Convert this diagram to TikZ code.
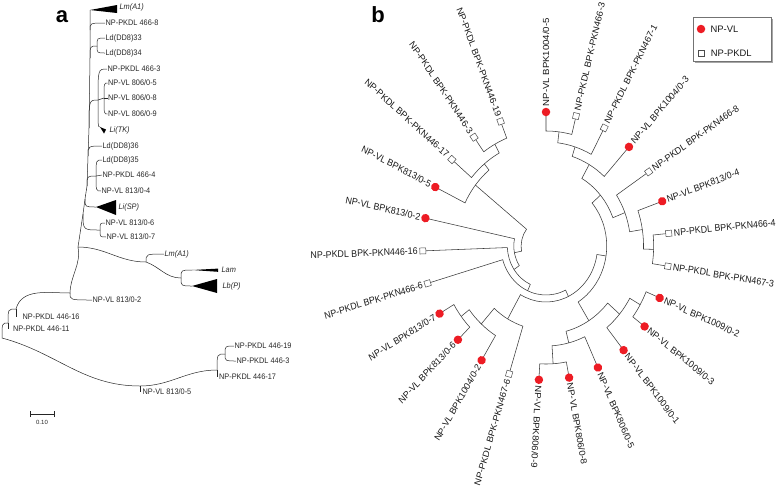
\documentclass[tikz,border=0pt]{standalone}
\usepackage{fontspec}
\setmainfont{Liberation Sans}
\usetikzlibrary{positioning}
\definecolor{vlred}{HTML}{ED1C24}
\definecolor{linegray}{HTML}{3A3A3A}

% circular clade: arc between two child angles at radius #3, radial stems to #4 and #5
\newcommand{\clade}[5]{\draw[branch] (#1:#4) -- (#1:#3) arc[start angle=#1, end angle=#2, radius=#3] -- (#2:#5);}
% leaf of the circular tree: index, marker style, text
\newcommand{\leafb}[3]{%
  \pgfmathsetmacro\ang{90-14.1*(#1-1)}%
  \pgfmathsetmacro\vis{atan2(sin(\ang),0.92*cos(\ang))}%
  \pgfmathtruncatemacro\isright{cos(\ang)>-0.2 ? 1 : 0}%
  \node[#2, rotate=\vis] (leaf#1) at (\ang:134) {};
  \ifnum\isright=1
    \node[blab, anchor=west, xscale=0.92, rotate=\ang] (tx#1) at (\ang:139.5) {#3};
  \else
    \node[blab, anchor=east, xscale=0.92, rotate=\ang+180] (tx#1) at (\ang:139.5) {#3};
  \fi}

\begin{document}
\begin{tikzpicture}[x=1pt, y=-1pt,
    branch/.style={draw=linegray, line width=0.55pt},
    abranch/.style={draw=black!85, line width=0.5pt},
    cbranch/.style={to path={.. controls (\tikztostart |- \tikztotarget) .. (\tikztotarget)}},
    alab/.style={font=\fontsize{8}{9}\selectfont, anchor=west, inner sep=0.5pt, xscale=0.92, text=black!85},
    aital/.style={alab, font=\fontsize{8}{9}\selectfont\itshape},
    blab/.style={font=\fontsize{9.6}{10}\selectfont, inner sep=0pt, text=black!90},
    vldot/.style={circle, fill=vlred, inner sep=0pt, minimum size=8.5pt},
    pksq/.style={rectangle, draw=black!70, fill=white, line width=0.5pt, inner sep=0pt, minimum size=6pt},
    collapsed/.style={fill=black},
    paneltag/.style={font=\fontsize{22}{24}\selectfont\bfseries, anchor=base}
  ]
  \useasboundingbox (0,0) rectangle (778,488);

  \node[paneltag] (taga) at (62,22) {a};
  \node[paneltag] (tagb) at (378,22) {b};

  % ---- panel a ----
  \node[aital] (laLmA) at (119,7.5) {Lm(A1)};
  \node[alab] (la4668) at (105,23) {NP-PKDL 466-8};
  \node[alab] (la33) at (105,38) {Ld(DD8)33};
  \node[alab] (la34) at (105,53) {Ld(DD8)34};
  \node[alab] (la4663) at (107,69) {NP-PKDL 466-3};
  \node[alab] (la8065) at (107.5,83) {NP-VL 806/0-5};
  \node[alab] (la8068) at (107.5,98) {NP-VL 806/0-8};
  \node[alab] (la8069) at (107.5,114) {NP-VL 806/0-9};
  \node[aital] (laTK) at (109,130) {Li(TK)};
  \node[alab] (la36) at (102,146) {Ld(DD8)36};
  \node[alab] (la35) at (102,160) {Ld(DD8)35};
  \node[alab] (la4664) at (102,175) {NP-PKDL 466-4};
  \node[alab] (la8134) at (101,191) {NP-VL 813/0-4};
  \node[aital] (laSP) at (118,207) {Li(SP)};
  \node[alab] (la8136) at (105,223) {NP-VL 813/0-6};
  \node[alab] (la8137) at (106,237) {NP-VL 813/0-7};
  \node[aital] (laLmB) at (164,254) {Lm(A1)};
  \node[aital] (laLam) at (221,270) {Lam};
  \node[aital] (laLb) at (222,286) {Lb(P)};
  \node[alab] (la8132) at (92,300) {NP-VL 813/0-2};
  \node[alab] (la44616) at (22,317) {NP-PKDL 446-16};
  \node[alab] (la44611) at (12.5,329) {NP-PKDL 446-11};
  \node[alab] (la8135) at (142,392) {NP-VL 813/0-5};
  \node[alab] (la44617) at (218.5,377) {NP-PKDL 446-17};
  \node[alab] (la44619) at (234,346) {NP-PKDL 446-19};
  \node[alab] (la4463) at (236,361) {NP-PKDL 446-3};

  \coordinate (r0) at (2,338);
  \coordinate (n1) at (8,323);
  \coordinate (n2) at (16,309);
  \coordinate (n3) at (70,293);
  \coordinate (n4) at (78,247);
  \coordinate (m1) at (83,214);
  \coordinate (s0) at (85,199);
  \coordinate (p5) at (87,186);
  \coordinate (p4) at (88,156);
  \coordinate (p3) at (89,128);
  \coordinate (p2) at (90,58);
  \coordinate (p1) at (90,30);
  \coordinate (t0) at (90,10);
  \coordinate (q1) at (97,46);
  \coordinate (q2) at (98,100);
  \coordinate (q3) at (104,98);
  \coordinate (q4) at (96,176);
  \coordinate (b67) at (100,230);
  \coordinate (n5) at (140,386);
  \coordinate (n6) at (217,370);
  \coordinate (n7) at (225,354);
  \coordinate (n8) at (146,262);
  \coordinate (n9) at (181,278);
  \coordinate (tkapex) at (100,127);
  \coordinate (spapex) at (96,207);
  \coordinate (lamapex) at (192,270);
  \coordinate (lbapex) at (192,286);

  % backbone and basal branches
  \draw[abranch] (r0) to[cbranch] (n1) to[cbranch] (n2) to[out=75, in=180] (n3)
    to[out=88, in=-80] (n4) -- (m1) -- (s0) -- (p5) -- (p4) -- (p3) -- (p2) -- (p1) -- (t0);
  \draw[abranch] (r0) to[out=-15, in=180] (n5) to[out=0, in=180] (n6);
  \draw[abranch] (n1) -- (n1 |- la44611.west);
  \draw[abranch] (n2) -- (n2 |- la44616.west);
  \draw[abranch] (n5) -- (n5 |- la8135.west);
  \draw[abranch] (n6) -- (n6 |- la44617.west);
  \draw[abranch] (n6) to[cbranch] (n7);
  \draw[abranch] (n7) to[cbranch] (la44619.west);
  \draw[abranch] (n7) to[cbranch] (la4463.west);
  \draw[abranch] (n3) to[cbranch] (la8132.west);
  \draw[abranch] (n4) to[out=0, in=180] (n8);
  \draw[abranch] (n8) to[cbranch] (laLmB.west);
  \draw[abranch] (n8) to[out=-20, in=180] (n9);
  \draw[abranch] (n9) to[cbranch] (lamapex);
  \draw[abranch] (n9) to[cbranch] (lbapex);
  % upper clades
  \draw[abranch] (p1) to[cbranch] (la4668.west);
  \draw[abranch] (p2) to[cbranch] (q1);
  \draw[abranch] (q1) to[cbranch] (la33.west);
  \draw[abranch] (q1) to[cbranch] (la34.west);
  \draw[abranch] (p3) to[cbranch] (q2);
  \draw[abranch] (q2) to[cbranch] (la4663.west);
  \draw[abranch] (q2) -- (q3);
  \draw[abranch] (q3) to[cbranch] (la8065.west);
  \draw[abranch] (q3) -- (la8068.west);
  \draw[abranch] (q3) to[cbranch] (la8069.west);
  \draw[abranch] (q2) to[cbranch] (tkapex);
  \draw[abranch] (p4) to[cbranch] (la36.west);
  \draw[abranch] (p5) to[cbranch] (q4);
  \draw[abranch] (q4) to[cbranch] (la35.west);
  \draw[abranch] (q4) -- (la4664.west);
  \draw[abranch] (q4) to[cbranch] (la8134.west);
  \draw[abranch] (s0) to[cbranch] (spapex);
  \draw[abranch] (m1) to[cbranch] (b67);
  \draw[abranch] (b67) to[cbranch] (la8136.west);
  \draw[abranch] (b67) to[cbranch] (la8137.west);
  % collapsed clades
  \fill[collapsed] (t0) -- (117,5) -- (117,13) -- cycle;
  \fill[collapsed] (tkapex) -- (106,129.5) -- (104,133.5) -- cycle;
  \fill[collapsed] (spapex) -- (116,200) -- (116,215) -- cycle;
  \fill[collapsed] (lamapex) -- (218,268.6) -- (218,271.8) -- cycle;
  \fill[collapsed] (lbapex) -- (217,279) -- (217,293) -- cycle;
  % scale bar
  \coordinate (sb1) at (30,414);
  \coordinate (sb2) at (54,414);
  \draw[abranch] (sb1) -- (sb2);
  \draw[abranch] ([yshift=-3pt]sb1) -- ([yshift=3pt]sb1);
  \draw[abranch] ([yshift=-3pt]sb2) -- ([yshift=3pt]sb2);
  \node[font=\fontsize{6}{7}\selectfont, text=black!85] (sbtext) at (42,422) {0.10};

  % ---- panel b ----
  \begin{scope}[shift={(546,246)}, x=0.92pt, y=1pt]
    \clade{90}{75.9}{115}{134}{134}
    \clade{82.95}{61.8}{104}{115}{134}
    \clade{72.375}{47.7}{94}{104}{134}
    \clade{5.4}{-8.7}{117}{134}{134}
    \clade{19.5}{-1.65}{106}{134}{117}
    \clade{33.6}{8.925}{92}{134}{106}
    \clade{60.04}{21.26}{78}{94}{92}
    \clade{-22.8}{-36.9}{118}{134}{134}
    \clade{-29.85}{-51}{105}{118}{134}
    \clade{-79.2}{-93.3}{118}{134}{134}
    \clade{-65.1}{-86.25}{100}{134}{118}
    \clade{-40.425}{-75.675}{88}{105}{100}
    \clade{40.65}{-58.05}{66}{78}{88}
    \clade{-135.6}{-149.7}{116}{134}{134}
    \clade{-121.5}{-142.65}{105}{134}{116}
    \clade{-107.4}{-132.075}{84}{134}{105}
    \clade{-8.7}{-119.74}{56}{66}{84}
    \clade{-64.22}{-163.8}{49}{56}{134}
    \clade{-114.01}{-177.9}{42}{49}{134}
    \clade{-145.96}{-192}{35}{42}{134}
    \clade{-234.3}{-248.4}{116}{134}{134}
    \clade{-220.2}{-241.35}{106}{134}{116}
    \clade{-206.1}{-230.775}{98}{134}{106}
    \clade{-168.98}{-218.44}{27}{35}{98}

    \leafb{1}{vldot}{NP-VL BPK1004/0-5}
    \leafb{2}{pksq}{NP-PKDL BPK-PKN466-3}
    \leafb{3}{pksq}{NP-PKDL BPK-PKN467-1}
    \leafb{4}{vldot}{NP-VL BPK1004/0-3}
    \leafb{5}{pksq}{NP-PKDL BPK-PKN466-8}
    \leafb{6}{vldot}{NP-VL BPK813/0-4}
    \leafb{7}{pksq}{NP-PKDL BPK-PKN466-4}
    \leafb{8}{pksq}{NP-PKDL BPK-PKN467-3}
    \leafb{9}{vldot}{NP-VL BPK1009/0-2}
    \leafb{10}{vldot}{NP-VL BPK1009/0-3}
    \leafb{11}{vldot}{NP-VL BPK1009/0-1}
    \leafb{12}{vldot}{NP-VL BPK806/0-5}
    \leafb{13}{vldot}{NP-VL BPK806/0-8}
    \leafb{14}{vldot}{NP-VL BPK806/0-9}
    \leafb{15}{pksq}{NP-PKDL BPK-PKN467-6}
    \leafb{16}{vldot}{NP-VL BPK1004/0-2}
    \leafb{17}{vldot}{NP-VL BPK813/0-6}
    \leafb{18}{vldot}{NP-VL BPK813/0-7}
    \leafb{19}{pksq}{NP-PKDL BPK-PKN466-6}
    \leafb{20}{pksq}{NP-PKDL BPK-PKN446-16}
    \leafb{21}{vldot}{NP-VL BPK813/0-2}
    \leafb{22}{vldot}{NP-VL BPK813/0-5}
    \leafb{23}{pksq}{NP-PKDL BPK-PKN446-17}
    \leafb{24}{pksq}{NP-PKDL BPK-PKN446-3}
    \leafb{25}{pksq}{NP-PKDL BPK-PKN446-19}
  \end{scope}

  % legend
  \fill[black!35] (695,19) rectangle (773,63);
  \draw[black!55, fill=white, line width=0.6pt] (693,17) rectangle (771.5,61.5);
  \node[vldot] (legvl) at (701,29) {};
  \node[pksq] (legpk) at (701,53) {};
  \node[blab, font=\fontsize{9.4}{10}\selectfont, right=5pt of legvl] (legvltext) {NP-VL};
  \node[blab, font=\fontsize{9.4}{10}\selectfont, right=6.5pt of legpk] (legpktext) {NP-PKDL};
\end{tikzpicture}
\end{document}
